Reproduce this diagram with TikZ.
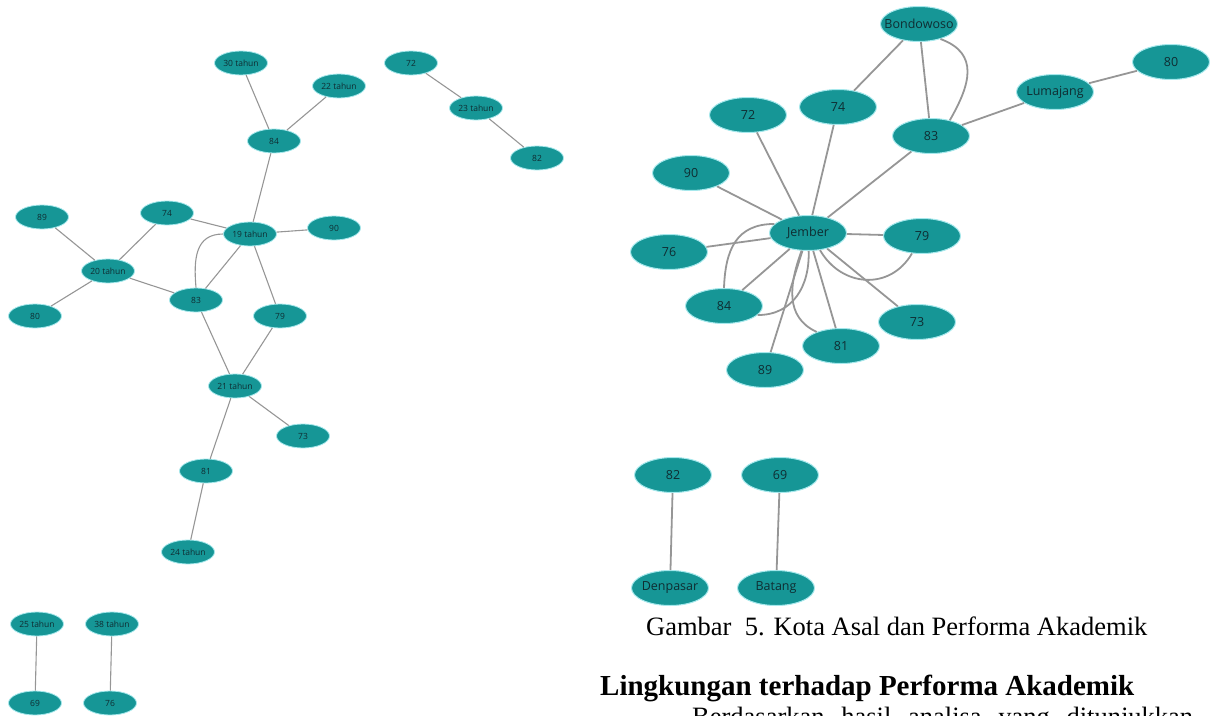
\documentclass[tikz,border=0pt]{standalone}
\usepackage{fontspec}
\setmainfont{Liberation Serif}
\newfontfamily\labelfont{Open Sans}
\usetikzlibrary{shapes.geometric}

\definecolor{nodefill}{RGB}{22,150,150}
\definecolor{nodeglow}{RGB}{165,232,236}
\definecolor{nodetext}{RGB}{15,45,50}
\definecolor{edgegray}{RGB}{150,150,150}

% label kept out of the ellipse size computation
\newcommand{\zlbl}[1]{\makebox[0pt]{#1}}

\begin{document}
\begin{tikzpicture}[x=1pt,y=-1pt,
  agenode/.style={ellipse, fill=nodefill, draw=nodeglow, line width=0.8pt,
    minimum width=53pt, minimum height=24pt, inner sep=0pt, text=nodetext,
    font=\labelfont\fontsize{8.5}{9}\selectfont},
  citynode/.style={ellipse, fill=nodefill, draw=nodeglow, line width=1pt,
    minimum width=77pt, minimum height=35pt, inner sep=0pt, text=nodetext,
    font=\labelfont\fontsize{12.5}{13}\selectfont},
  thinedge/.style={draw=edgegray, line width=1.1pt},
  thickedge/.style={draw=edgegray, line width=1.8pt},
]
\useasboundingbox (0,0) rectangle (1215,715);
\clip (0,0) rectangle (1215,715);

% ---------------- age vs. score graph ----------------
\node[agenode] (a30) at (241,63)  {\zlbl{30 tahun}};
\node[agenode] (a22) at (339,86)  {\zlbl{22 tahun}};
\node[agenode] (l72) at (411,63)  {\zlbl{72}};
\node[agenode] (a23) at (476,108) {\zlbl{23 tahun}};
\node[agenode] (l82) at (537,158) {\zlbl{82}};
\node[agenode] (l84) at (274,141) {\zlbl{84}};
\node[agenode] (l89) at (42,217)  {\zlbl{89}};
\node[agenode] (l74) at (167,213) {\zlbl{74}};
\node[agenode] (a19) at (250,234) {\zlbl{19 tahun}};
\node[agenode] (l90) at (334,228) {\zlbl{90}};
\node[agenode] (a20) at (108,271) {\zlbl{20 tahun}};
\node[agenode] (l83) at (196,300) {\zlbl{83}};
\node[agenode] (l80) at (35,316)  {\zlbl{80}};
\node[agenode] (l79) at (280,316) {\zlbl{79}};
\node[agenode] (a21) at (235,386) {\zlbl{21 tahun}};
\node[agenode] (l73) at (303,436) {\zlbl{73}};
\node[agenode] (l81) at (206,471) {\zlbl{81}};
\node[agenode] (a24) at (188,552) {\zlbl{24 tahun}};
\node[agenode] (a25) at (37,624)  {\zlbl{25 tahun}};
\node[agenode] (a38) at (112,624) {\zlbl{38 tahun}};
\node[agenode] (l69) at (35,703)  {\zlbl{69}};
\node[agenode] (l76) at (110,703) {\zlbl{76}};

\draw[thinedge] (a30) -- (l84);
\draw[thinedge] (a22) -- (l84);
\draw[thinedge] (l84) -- (a19);
\draw[thinedge] (l72) -- (a23);
\draw[thinedge] (a23) -- (l82);
\draw[thinedge] (l89) -- (a20);
\draw[thinedge] (l74) -- (a20);
\draw[thinedge] (l74) -- (a19);
\draw[thinedge] (a19) -- (l90);
\draw[thinedge] (a20) -- (l83);
\draw[thinedge] (l80) -- (a20);
\draw[thinedge] (a19) -- (l83);
\draw[thinedge] (a19.west) to[out=180,in=95,looseness=1.2] (l83.north);
\draw[thinedge] (a19) -- (l79);
\draw[thinedge] (l83) -- (a21);
\draw[thinedge] (l79) -- (a21);
\draw[thinedge] (a21) -- (l73);
\draw[thinedge] (a21) -- (l81);
\draw[thinedge] (l81) -- (a24);
\draw[thinedge] (a25) -- (l69);
\draw[thinedge] (a38) -- (l76);

% ---------------- home town vs. score graph ----------------
\node[citynode] (bond) at (919,24)  {\zlbl{Bondowoso}};
\node[citynode] (r80)  at (1171,62) {\zlbl{80}};
\node[citynode] (luma) at (1055,92) {\zlbl{Lumajang}};
\node[citynode] (r74)  at (838,107) {\zlbl{74}};
\node[citynode] (r72)  at (748,115) {\zlbl{72}};
\node[citynode] (r83)  at (931,136) {\zlbl{83}};
\node[citynode] (r90)  at (691,173) {\zlbl{90}};
\node[citynode] (jem)  at (808,233) {\zlbl{Jember}};
\node[citynode] (r79)  at (922,236) {\zlbl{79}};
\node[citynode] (r76)  at (669,252) {\zlbl{76}};
\node[citynode] (r84)  at (724,306) {\zlbl{84}};
\node[citynode] (r73)  at (917,322) {\zlbl{73}};
\node[citynode] (r81)  at (841,346) {\zlbl{81}};
\node[citynode] (r89)  at (765,370) {\zlbl{89}};
\node[citynode] (r82)  at (673,475) {\zlbl{82}};
\node[citynode] (r69)  at (780,475) {\zlbl{69}};
\node[citynode] (denp) at (670,588) {\zlbl{Denpasar}};
\node[citynode] (bat)  at (776,588) {\zlbl{Batang}};

\draw[thickedge] (bond) -- (r74);
\draw[thickedge] (bond) -- (r83);
\draw[thickedge] (bond.-35) to[out=-20,in=60,looseness=1.3] (r83.40);
\draw[thickedge] (r83) -- (luma);
\draw[thickedge] (luma) -- (r80);
\draw[thickedge] (jem) -- (r72);
\draw[thickedge] (jem) -- (r74);
\draw[thickedge] (jem) -- (r83);
\draw[thickedge] (jem) -- (r90);
\draw[thickedge] (jem) -- (r76);
\draw[thickedge] (jem) -- (r79);
\draw[thickedge] (jem.-55) to[out=-60,in=-120,looseness=1.2] (r79.-120);
\draw[thickedge] (jem) -- (r84);
\draw[thickedge] (jem.165) to[out=180,in=88,looseness=1.2] (r84.north);
\draw[thickedge] (jem.-88) to[out=-88,in=0,looseness=1.1] (r84.-15);
\draw[thickedge] (jem) -- (r81);
\draw[thickedge] (jem.-110) to[out=-110,in=155,looseness=1.1] (r81.150);
\draw[thickedge] (jem) -- (r89);
\draw[thickedge] (jem) -- (r73);
\draw[thickedge] (r82) -- (denp);
\draw[thickedge] (r69) -- (bat);

% ---------------- caption and following text ----------------
\node[anchor=base west, inner sep=0pt, font=\fontsize{26.5}{28}\selectfont]
  (caption) at (646,635) {Gambar\ \ 5. Kota Asal dan Performa Akademik};
\node[anchor=base west, inner sep=0pt, font=\bfseries\fontsize{29}{31}\selectfont]
  (heading) at (600,695) {Lingkungan terhadap Performa Akademik};
\node[anchor=base west, inner sep=0pt, font=\fontsize{26.5}{28}\selectfont]
  (bodyline) at (692,725) {\makebox[501pt][s]{Berdasarkan hasil analisa yang ditunjukkan}};
\end{tikzpicture}
\end{document}
